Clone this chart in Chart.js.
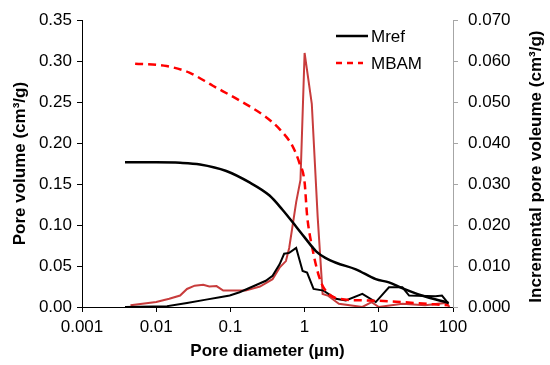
<!DOCTYPE html>
<html>
<head>
<meta charset="utf-8">
<script src="https://cdn.jsdelivr.net/npm/chart.js@4.4.1/dist/chart.umd.min.js"></script>
<style>
  html, body { margin: 0; padding: 0; background: #fff; }
  #wrap { width: 550px; height: 365px; }
</style>
</head>
<body>
<div id="wrap"><canvas id="poreChart"></canvas></div>
<script>
// cumulative pore volume (left axis)
var mrefCumDiam = [0.0038, 0.01, 0.021, 0.039, 0.088, 0.181, 0.337, 0.5, 0.77, 1.0, 1.43, 1.9, 2.65, 4.9, 9.1, 13.7, 20.6, 38, 87];
var mrefCumVol  = [0.1765, 0.1765, 0.176, 0.174, 0.166, 0.152, 0.136, 0.119, 0.098, 0.085, 0.068, 0.060, 0.054, 0.046, 0.034, 0.030, 0.023, 0.014, 0.005];

var mbamCumDiam = [0.0052, 0.0138, 0.028, 0.058, 0.133, 0.30, 0.46, 0.69, 0.85, 1.0, 1.08, 1.27, 1.58, 1.85, 2.9, 7.3, 20, 87];
var mbamCumVol  = [0.297, 0.294, 0.286, 0.270, 0.252, 0.232, 0.217, 0.196, 0.176, 0.152, 0.112, 0.072, 0.036, 0.022, 0.010, 0.008, 0.006, 0.002];

// incremental pore volume (right axis)
var mrefIncDiam = [0.0038, 0.014, 0.026, 0.047, 0.072, 0.098, 0.133, 0.20, 0.30, 0.37, 0.46, 0.53, 0.62, 0.77, 0.94, 1.08, 1.32, 1.8, 2.65, 3.6, 6.0, 9.1, 13.7, 20.8, 25.6, 58, 71, 87];
var mrefIncVol  = [0, 0.0002, 0.001, 0.0018, 0.0024, 0.0028, 0.0036, 0.005, 0.0064, 0.0076, 0.0104, 0.013, 0.0132, 0.0144, 0.0088, 0.0084, 0.0044, 0.004, 0.002, 0.0016, 0.0032, 0.0012, 0.0048, 0.0048, 0.0028, 0.0026, 0.0028, 0.0008];

var mbamIncDiam = [0.0045, 0.01, 0.015, 0.021, 0.026, 0.033, 0.043, 0.052, 0.065, 0.08, 0.108, 0.16, 0.25, 0.37, 0.46, 0.56, 0.62, 0.77, 0.88, 1.0, 1.25, 1.5, 1.75, 2.05, 2.9, 6.0, 8.0, 10, 20.8, 42, 80, 90];
var mbamIncVol  = [0.0004, 0.0012, 0.002, 0.0028, 0.0044, 0.0052, 0.0054, 0.005, 0.0051, 0.004, 0.004, 0.004, 0.005, 0.0068, 0.0096, 0.0112, 0.0144, 0.0256, 0.031, 0.062, 0.0496, 0.022, 0.0032, 0.0028, 0.0008, 0, 0.0012, 0, 0.0008, 0.0004, 0.001, 0];

var xTicks = [0.001, 0.01, 0.1, 1, 10, 100];
var xTickLabels = ["0.001", "0.01", "0.1", "1", "10", "100"];
var seriesNames = ["Mref", "MBAM"];

function pts(xs, ys) {
  return xs.map(function(x, i) { return { x: x, y: ys[i] }; });
}

var tickFont = { family: "'Liberation Sans', Arial, sans-serif", size: 17 };
var titleFont = { family: "'Liberation Sans', Arial, sans-serif", size: 17, weight: "bold" };

// legend drawn inside the plot, top right
var innerLegend = {
  id: "innerLegend",
  afterDraw: function(chart) {
    var ctx = chart.ctx;
    ctx.save();
    [0, 1].forEach(function(i) {
      var ds = chart.data.datasets[i];
      var y = 36 + i * 27;
      ctx.strokeStyle = ds.borderColor;
      ctx.lineWidth = ds.borderWidth;
      ctx.setLineDash(ds.borderDash ? [6, 5] : []);
      ctx.beginPath();
      ctx.moveTo(336, y);
      ctx.lineTo(ds.borderDash ? 363 : 368, y);
      ctx.stroke();
      ctx.setLineDash([]);
      ctx.fillStyle = "#000";
      ctx.font = "17px 'Liberation Sans', Arial, sans-serif";
      ctx.textBaseline = "middle";
      ctx.textAlign = "left";
      ctx.fillText(ds.label, 371, y + 1);
    });
    // right axis title, reading bottom to top
    var area = chart.chartArea;
    ctx.translate(536, (area.top + area.bottom) / 2 + 3);
    ctx.rotate(-Math.PI / 2);
    ctx.font = "bold 17px 'Liberation Sans', Arial, sans-serif";
    ctx.textAlign = "center";
    ctx.textBaseline = "middle";
    ctx.fillText("Incremental pore voleume (cm\u00b3/g)", 0, 0);
    ctx.restore();
  }
};

var ctx = document.getElementById("poreChart").getContext("2d");

var myChart = new Chart(ctx, {
  type: "line",
  data: {
    datasets: [{
      label: seriesNames[0],
      data: pts(mrefCumDiam, mrefCumVol),
      yAxisID: "y",
      borderColor: "#000000",
      borderWidth: 2.5,
      cubicInterpolationMode: "monotone",
      pointRadius: 0,
      fill: false
    }, {
      label: seriesNames[1],
      data: pts(mbamCumDiam, mbamCumVol),
      yAxisID: "y",
      borderColor: "#FF0000",
      borderWidth: 2.5,
      borderDash: [8, 5],
      cubicInterpolationMode: "monotone",
      pointRadius: 0,
      fill: false
    }, {
      label: seriesNames[0] + " incremental",
      data: pts(mrefIncDiam, mrefIncVol),
      yAxisID: "y1",
      borderColor: "#000000",
      borderWidth: 2,
      lineTension: 0,
      pointRadius: 0,
      fill: false
    }, {
      label: seriesNames[1] + " incremental",
      data: pts(mbamIncDiam, mbamIncVol),
      yAxisID: "y1",
      borderColor: "#C83C3C",
      borderWidth: 2,
      lineTension: 0,
      pointRadius: 0,
      fill: false
    }]
  },
  options: {
    responsive: true,
    maintainAspectRatio: false,
    animation: false,
    layout: { padding: { top: 15, left: 0, right: 0, bottom: 0 } },
    plugins: {
      legend: { display: false },
      tooltip: { enabled: false }
    },
    scales: {
      x: {
        type: "logarithmic",
        position: "bottom",
        min: 0.001,
        max: 100,
        afterBuildTicks: function(axis) {
          axis.ticks = xTicks.map(function(v) { return { value: v }; });
        },
        afterFit: function(scale) { scale.height = 58; },
        grid: { drawOnChartArea: false, drawTicks: true, tickLength: 5, color: "#000" },
        border: { color: "#000", width: 1 },
        ticks: {
          color: "#000",
          font: tickFont,
          padding: 5,
          maxRotation: 0,
          autoSkip: false,
          callback: function(value, index) { return xTickLabels[index]; }
        },
        title: {
          display: true,
          text: "Pore diameter (\u00b5m)",
          color: "#000",
          font: titleFont,
          padding: { top: 0, bottom: 3 }
        }
      },
      y: {
        type: "linear",
        position: "left",
        min: 0,
        max: 0.35,
        afterFit: function(scale) { scale.width = 82; },
        grid: { drawOnChartArea: false, drawTicks: true, tickLength: 5, color: "#000" },
        border: { color: "#000", width: 1 },
        ticks: {
          stepSize: 0.05,
          color: "#000",
          font: tickFont,
          padding: 5,
          callback: function(v) { return v.toFixed(2); }
        },
        title: {
          display: true,
          text: "Pore volume (cm\u00b3/g)",
          color: "#000",
          font: titleFont,
          padding: { top: 10, bottom: 0 }
        }
      },
      y1: {
        type: "linear",
        position: "right",
        min: 0,
        max: 0.07,
        afterFit: function(scale) { scale.width = 97; },
        grid: { drawOnChartArea: false, drawTicks: true, tickLength: 5, color: "#A6A6A6" },
        border: { color: "#A6A6A6", width: 1 },
        ticks: {
          stepSize: 0.01,
          color: "#000",
          font: tickFont,
          padding: 10,
          callback: function(v) { return v.toFixed(3); }
        }
      }
    }
  },
  plugins: [innerLegend]
});
</script>
</body>
</html>
